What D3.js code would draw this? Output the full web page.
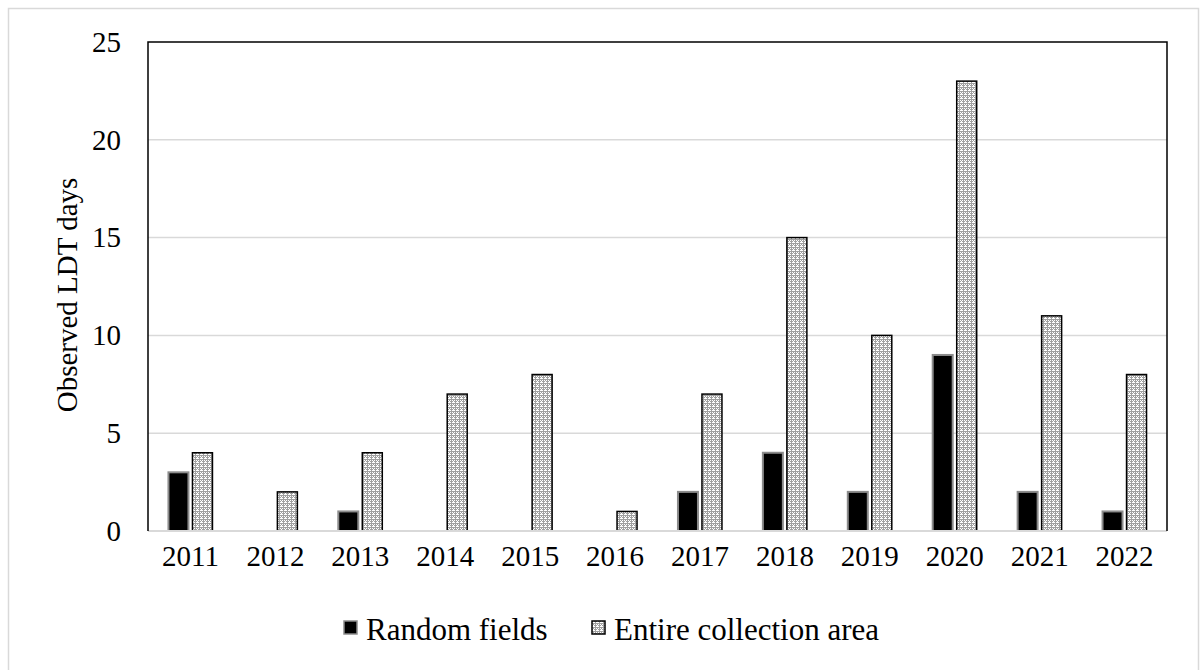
<!DOCTYPE html>
<html><head><meta charset="utf-8">
<script src="https://cdn.jsdelivr.net/npm/d3@7"></script>
<style>body{margin:0;background:#fff}svg{display:block}text{font-family:"Liberation Serif","Times New Roman",serif;fill:#000}</style>
</head><body>
<svg id="c" width="1200" height="670"></svg>
<script>
const years = ["2011","2012","2013","2014","2015","2016","2017","2018","2019","2020","2021","2022"];
const randomFields = [3,0,1,0,0,0,2,4,2,9,2,1];
const entireArea = [4,2,4,7,8,1,7,15,10,23,11,8];
const yTicks = [0,5,10,15,20,25];
const seriesNames = ["Random fields","Entire collection area"];

const svg = d3.select("#c");
const defs = svg.append("defs");
const pat = defs.append("pattern").attr("id","dots").attr("patternUnits","userSpaceOnUse").attr("width",4).attr("height",4);
pat.append("rect").attr("width",4).attr("height",4).attr("fill","#a0a0a0");
pat.append("rect").attr("x",0).attr("y",0).attr("width",1).attr("height",1).attr("fill","#fff");
pat.append("rect").attr("x",2).attr("y",0).attr("width",1).attr("height",1).attr("fill","#fff");
pat.append("rect").attr("x",1).attr("y",1).attr("width",1).attr("height",2).attr("fill","#fff");
pat.append("rect").attr("x",0).attr("y",2).attr("width",3).attr("height",1).attr("fill","#fff");

// outer border
svg.append("rect").attr("x",8.5).attr("y",8.5).attr("width",1190).attr("height",670).attr("fill","none").attr("stroke","#d9d9d9").attr("stroke-width",1.5);

const L=148,R=1167,T=42,B=531;
const x = d3.scaleBand().domain(years).range([L,R]);
const y = d3.scaleLinear().domain([0,25]).range([B,T]);

// gridlines
svg.append("g").selectAll("line").data(yTicks.filter(d=>d>0 && d<25)).join("line")
  .attr("x1",L).attr("x2",R).attr("y1",d=>y(d)).attr("y2",d=>y(d))
  .attr("stroke","#d9d9d9").attr("stroke-width",1.5);

// y tick labels via axis
const yAxis = svg.append("g").attr("transform",`translate(${L},0)`).call(d3.axisLeft(y).tickValues(yTicks).tickSize(0).tickPadding(27));
yAxis.select(".domain").remove();
yAxis.selectAll("text").attr("font-size",29).attr("font-family","Liberation Serif").attr("fill","#000");

// x labels
const xAxis = svg.append("g").attr("transform",`translate(0,${B})`).call(d3.axisBottom(x).tickSize(0).tickPadding(14));
xAxis.select(".domain").remove();
xAxis.selectAll("text").attr("font-size",29).attr("font-family","Liberation Serif").attr("fill","#000");

const bw = 20, gap = 4;
const c = d => x(d) + x.bandwidth()/2;
// random fields bars
svg.append("g").selectAll("rect").data(years.map((d,i)=>({d,v:randomFields[i]})).filter(e=>e.v>0)).join("rect")
  .attr("x",e=>c(e.d)-gap/2-bw).attr("width",bw)
  .attr("y",e=>y(e.v)).attr("height",e=>B-y(e.v))
  .attr("fill","#000").attr("stroke","#8c8c8c").attr("stroke-width",2);
// entire area bars
svg.append("g").selectAll("rect").data(years.map((d,i)=>({d,v:entireArea[i]})).filter(e=>e.v>0)).join("rect")
  .attr("x",e=>c(e.d)+gap/2).attr("width",bw)
  .attr("y",e=>y(e.v)).attr("height",e=>B-y(e.v))
  .attr("fill","url(#dots)").attr("stroke","#000").attr("stroke-width",1.5);

// plot border
svg.append("line").attr("x1",L).attr("x2",R).attr("y1",B).attr("y2",B).attr("stroke","#d9d9d9").attr("stroke-width",2);
svg.append("path").attr("d",`M${L},${B}V${T}H${R}V${B}`).attr("fill","none").attr("stroke","#000").attr("stroke-width",1.5);

// y label
svg.append("text").attr("transform",`translate(77,295) rotate(-90)`).attr("text-anchor","middle")
  .attr("font-size",29).text("Observed LDT days");

// legend
const lg = svg.append("g");
const items = [{x:344, fill:"#000", stroke:"#8c8c8c"},{x:592, fill:"url(#dots)", stroke:"#000"}];
items.forEach((it,i)=>{
  lg.append("rect").attr("x",it.x).attr("y",621).attr("width",13).attr("height",13).attr("fill",it.fill).attr("stroke",it.stroke).attr("stroke-width",1.5);
  lg.append("text").attr("x",it.x+22).attr("y",640).attr("font-size",31).text(seriesNames[i]);
});
</script>
</body></html>
